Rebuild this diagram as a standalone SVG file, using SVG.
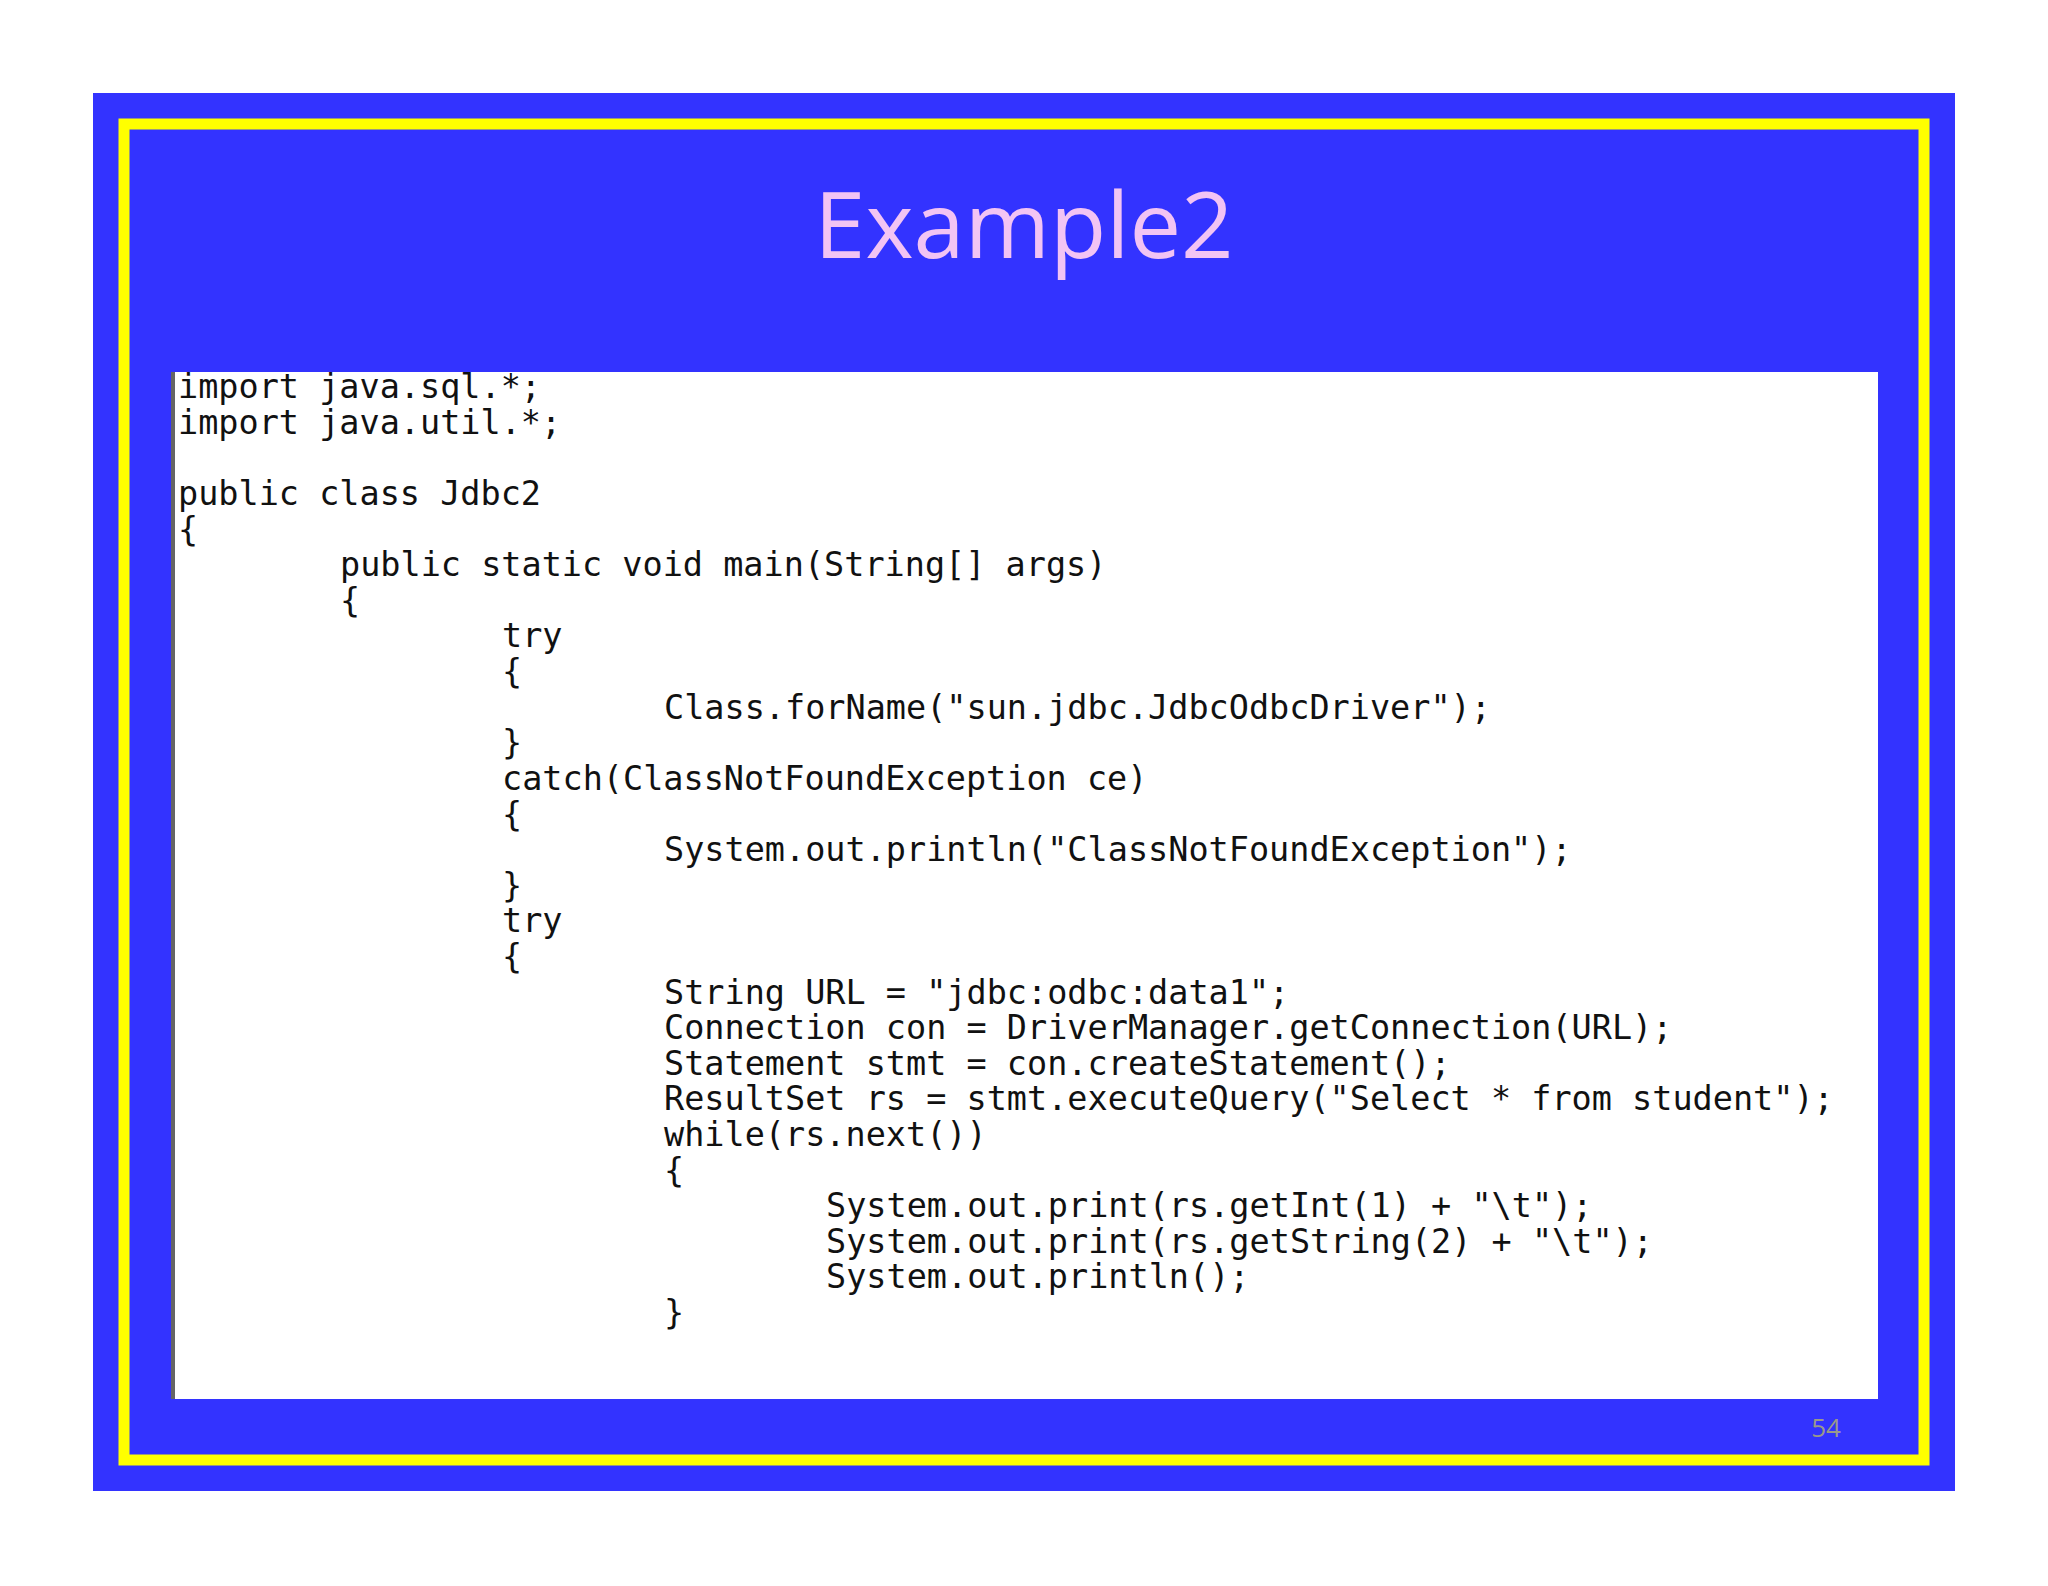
<svg xmlns="http://www.w3.org/2000/svg" width="2048" height="1586" viewBox="0 0 2048 1586">
<style>
.c{font-family:"DejaVu Sans Mono","Liberation Mono",monospace;font-size:33.5px;fill:#111;white-space:pre}
</style>
<rect width="2048" height="1586" fill="#fff"/>
<rect x="93" y="93" width="1862" height="1398" fill="#3333ff"/>
<rect x="124" y="124" width="1800" height="1336" fill="none" stroke="#ffff00" stroke-width="11"/>
<text x="1024" y="258" text-anchor="middle" font-family="'Open Sans','Liberation Sans',sans-serif" font-size="92" fill="#f2c4f4">Example2</text>
<g id="code">
<rect x="171" y="372" width="1707" height="1027" fill="#fff"/>
<line x1="173" y1="372" x2="173" y2="1399" stroke="#666" stroke-width="4"/>
<text class="c" x="178" y="398">import java.sql.*;</text>
<text class="c" x="178" y="434">import java.util.*;</text>
<text class="c" x="178" y="505">public class Jdbc2</text>
<text class="c" x="178" y="541">{</text>
<text class="c" x="340" y="576">public static void main(String[] args)</text>
<text class="c" x="340" y="612">{</text>
<text class="c" x="502" y="647">try</text>
<text class="c" x="502" y="683">{</text>
<text class="c" x="664" y="719">Class.forName("sun.jdbc.JdbcOdbcDriver");</text>
<text class="c" x="502" y="754">}</text>
<text class="c" x="502" y="790">catch(ClassNotFoundException ce)</text>
<text class="c" x="502" y="826">{</text>
<text class="c" x="664" y="861">System.out.println("ClassNotFoundException");</text>
<text class="c" x="502" y="897">}</text>
<text class="c" x="502" y="932">try</text>
<text class="c" x="502" y="968">{</text>
<text class="c" x="664" y="1004">String URL = "jdbc:odbc:data1";</text>
<text class="c" x="664" y="1039">Connection con = DriverManager.getConnection(URL);</text>
<text class="c" x="664" y="1075">Statement stmt = con.createStatement();</text>
<text class="c" x="664" y="1110">ResultSet rs = stmt.executeQuery("Select * from student");</text>
<text class="c" x="664" y="1146">while(rs.next())</text>
<text class="c" x="664" y="1182">{</text>
<text class="c" x="826" y="1217">System.out.print(rs.getInt(1) + "\t");</text>
<text class="c" x="826" y="1253">System.out.print(rs.getString(2) + "\t");</text>
<text class="c" x="826" y="1288">System.out.println();</text>
<text class="c" x="664" y="1324">}</text>
</g>
<text x="1826" y="1437" text-anchor="middle" font-family="'Open Sans','Liberation Sans',sans-serif" font-size="26" fill="#9a9a8a">54</text>
</svg>
